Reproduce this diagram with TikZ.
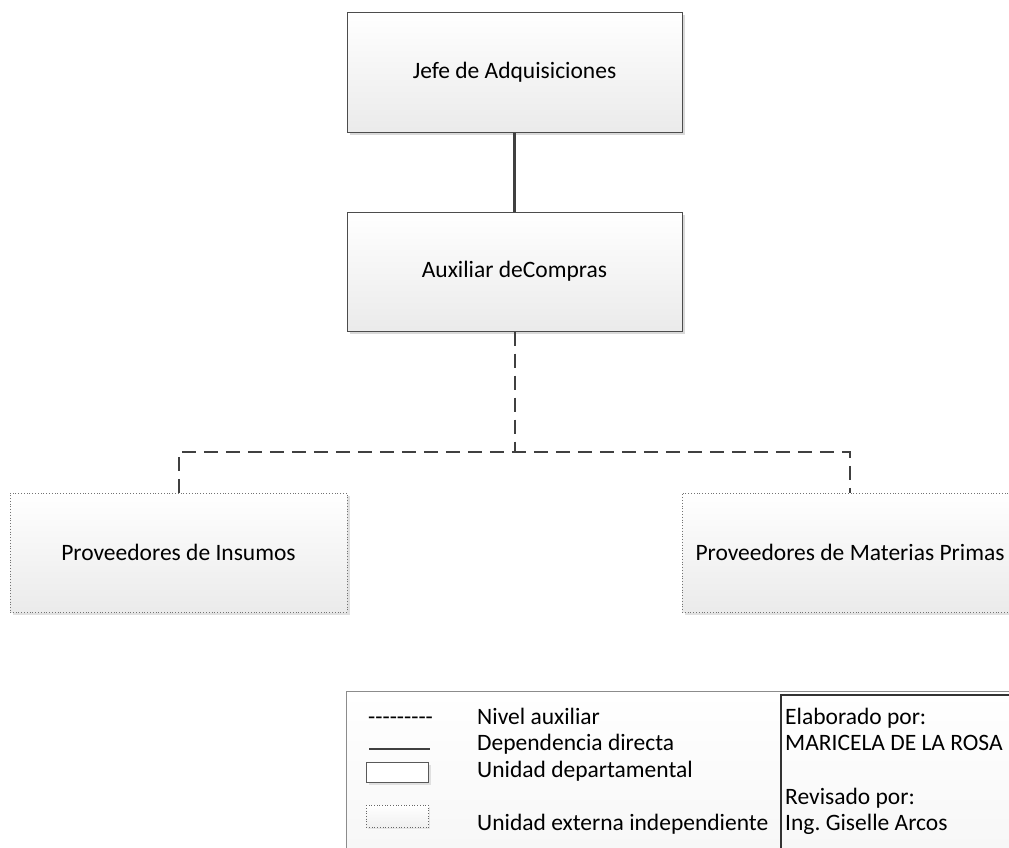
\documentclass[tikz,border=0pt]{standalone}
\usepackage{fontspec}
\setmainfont{Carlito}
\usetikzlibrary{shadows}
\begin{document}
\frenchspacing
\begin{tikzpicture}[x=1pt,y=-1pt,
  font=\fontsize{23.5}{26}\selectfont,
  unitbox/.style={draw=black!70,line width=1pt,top color=white,bottom color=black!8,
    drop shadow={shadow xshift=3pt,shadow yshift=-3pt,fill=black!15,opacity=1}},
  extbox/.style={draw=black!55,line width=0.8pt,dotted,top color=white,bottom color=black!8,
    drop shadow={shadow xshift=3pt,shadow yshift=-3pt,fill=black!12,opacity=1}},
  direct/.style={draw=black!75,line width=2.5pt},
  auxline/.style={draw=black!75,line width=2pt,dash pattern=on 14pt off 8pt},
  legtext/.style={anchor=base west,inner sep=0pt}]
\useasboundingbox (0,0) rectangle (1009,847);
\clip (0,0) rectangle (1009,847);
% boxes
\node[unitbox,minimum width=335pt,minimum height=120pt] (jefe) at (514.5,72) {Jefe de Adquisiciones};
\node[unitbox,minimum width=335pt,minimum height=119pt] (aux) at (514.5,271.5) {Auxiliar deCompras};
\node[extbox,minimum width=337pt,minimum height=119pt] (ins) at (178.5,552.5) {Proveedores de Insumos};
\node[extbox,minimum width=336pt,minimum height=119pt] (mat) at (850,552.5) {Proveedores de Materias Primas};
% connectors
\draw[direct] (jefe.south) -- (aux.north);
\coordinate (junc) at (aux.south |- 0,452);
\draw[auxline] (aux.south) -- (junc);
\draw[auxline] (ins.north) -- (ins.north |- junc) -- (mat.north |- junc) -- (mat.north);
% legend
\node[draw=black!45,line width=1pt,top color=white,bottom color=black!4,anchor=north west,
  minimum width=700pt,minimum height=200pt,inner sep=0pt] (legend) at (346,691) {};
\node[draw=black!80,line width=2pt,anchor=north west,minimum width=400pt,minimum height=200pt,inner sep=0pt] (sign) at (780,694) {};
\node[legtext] (dashsym) at (368,724) {-{}-{}-{}-{}-{}-{}-{}-{}-};
\node[legtext] (t1) at (477,724) {Nivel auxiliar};
\coordinate (l1) at (369,749);
\coordinate (l2) at (430,749);
\draw[direct,line width=2.2pt] (l1) -- (l2);
\node[legtext] (t2) at (477,750) {Dependencia directa};
\node[draw=black!65,line width=0.8pt,fill=white,anchor=north west,minimum width=62pt,minimum height=20pt,inner sep=0pt,
  drop shadow={shadow xshift=3pt,shadow yshift=-3pt,fill=black!12,opacity=1}] (rsym) at (366,762) {};
\node[legtext] (t3) at (477,777) {Unidad departamental};
\node[draw=black!60,dotted,line width=0.7pt,top color=white,bottom color=black!6,anchor=north west,minimum width=62pt,minimum height=22pt,inner sep=0pt,
  drop shadow={shadow xshift=2pt,shadow yshift=-2pt,fill=black!10,opacity=1}] (esym) at (366,805) {};
\node[legtext] (t4) at (477,830) {Unidad externa independiente};
\node[legtext] (e1) at (785,724) {Elaborado por:};
\node[legtext] (e2) at (785,750) {MARICELA DE LA ROSA};
\node[legtext] (e3) at (785,804) {Revisado por:};
\node[legtext] (e4) at (785,830) {Ing. Giselle Arcos};
\end{tikzpicture}
\end{document}
